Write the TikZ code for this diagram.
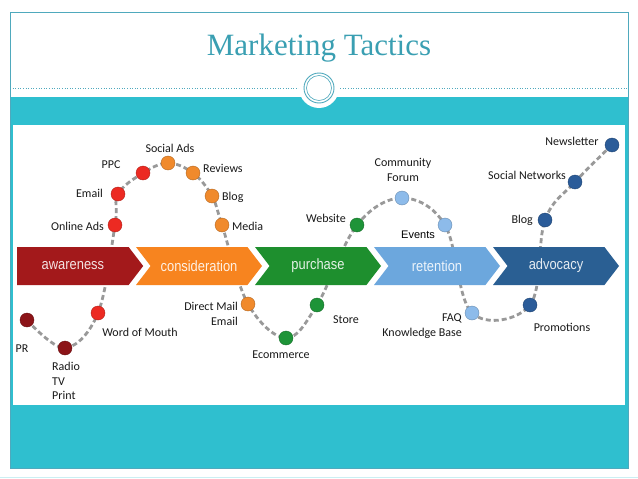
\documentclass[tikz,border=0pt]{standalone}
\usepackage{fontspec}
\setmainfont{Carlito}
\newfontfamily\titlefont{Liberation Serif}
\newfontfamily\arialfont{Liberation Sans}
\usetikzlibrary{shapes.symbols}
\definecolor{bandteal}{HTML}{2FBFCF}
\definecolor{titleteal}{HTML}{3A9FB2}
\definecolor{frameteal}{HTML}{4FA9BD}
\definecolor{awarec}{HTML}{A3191B}
\definecolor{consc}{HTML}{F7841F}
\definecolor{purchc}{HTML}{1E8F2E}
\definecolor{retc}{HTML}{6CA7DD}
\definecolor{advc}{HTML}{2A5F93}
\definecolor{dotdark}{HTML}{8C1418}
\definecolor{dotred}{HTML}{EC2A22}
\definecolor{dotorange}{HTML}{F08A2C}
\definecolor{dotgreen}{HTML}{1E9438}
\definecolor{dotlight}{HTML}{8DBBEA}
\definecolor{dotblue}{HTML}{2B5C99}
\pgfdeclarelayer{panel}
\pgfdeclarelayer{trail}
\pgfsetlayers{panel,trail,main}
\tikzset{
	stage/.style={signal, signal to=east, signal from=west, signal pointer angle=105,
		minimum width=126pt, minimum height=38pt, inner sep=0pt, fill=#1,
		text=white, text opacity=0.88, font=\arialfont\fontsize{15}{15}\selectfont},
	stagefirst/.style={stage=#1, signal from=nowhere, anchor=west},
	dot/.style={circle, inner sep=0pt, minimum size=14pt, fill=#1, draw=#1!75!black, line width=0.4pt},
	tag/.style={font=\fontsize{12}{14.5}\selectfont, text=black!90, inner sep=0pt},
	trailline/.style={draw=gray!80, line width=2.8pt, dash pattern=on 5pt off 3pt},
}
\begin{document}
\begin{tikzpicture}[x=1pt, y=-1pt]
	\useasboundingbox (0,0) rectangle (638,479);
\begin{pgfonlayer}{panel}
	\fill[bandteal] (10,97) rectangle (628,468);
	\fill[white] (13,125) rectangle (625,405);
	\draw[bandteal!25, line width=1pt] (0,477.5) -- (638,477.5);
	\draw[frameteal, line width=0.8pt] (10,12) rectangle (628,468);
	\draw[frameteal, dotted, line width=0.6pt] (10,88) -- (628,88);
	\fill[white] (319,88) circle[radius=20pt];
	\draw[frameteal, line width=0.9pt] (319,88) circle[radius=15pt];
	\draw[frameteal, line width=0.6pt] (319,88) circle[radius=12.5pt];
\end{pgfonlayer}
	\node[font=\titlefont\fontsize{31}{31}\selectfont, text=titleteal] (title) at (319,48) {Marketing Tactics};
	% stages
	\node[stagefirst=awarec] (awareness) at (17,266) {\scalebox{0.86}[1]{awareness}};
	\node[stage=consc] (consideration) at (199,266) {\scalebox{0.86}[1]{consideration}};
	\node[stage=purchc] (purchase) at (318,266) {\scalebox{0.86}[1]{purchase}};
	\node[stage=retc] (retention) at (437,266) {\scalebox{0.86}[1]{retention}};
	\node[stage=advc] (advocacy) at (556,266) {\scalebox{0.86}[1]{advocacy}};
	% touch points
	\node[dot=dotdark] (pr) at (27,320) {};
	\node[dot=dotdark] (radio) at (65,348) {};
	\node[dot=dotred] (wom) at (98,313) {};
	\node[dot=dotred] (onlineads) at (115,225) {};
	\node[dot=dotred] (email) at (118,194) {};
	\node[dot=dotred] (ppc) at (143,173) {};
	\node[dot=dotorange] (socialads) at (168,163) {};
	\node[dot=dotorange] (reviews) at (193,173) {};
	\node[dot=dotorange] (blog) at (212,196) {};
	\node[dot=dotorange] (media) at (222,225) {};
	\node[dot=dotorange] (directmail) at (248,304) {};
	\node[dot=dotgreen] (ecommerce) at (286,338) {};
	\node[dot=dotgreen] (store) at (317,305) {};
	\node[dot=dotgreen] (website) at (357,225) {};
	\node[dot=dotlight] (forum) at (402,198) {};
	\node[dot=dotlight] (events) at (445,225) {};
	\node[dot=dotlight] (faq) at (472,313) {};
	\node[dot=dotblue] (promotions) at (530,305) {};
	\node[dot=dotblue] (blogadv) at (545,220) {};
	\node[dot=dotblue] (socialnet) at (575,182) {};
	\node[dot=dotblue] (newsletter) at (612,145) {};
\begin{pgfonlayer}{trail}
	\draw[trailline] plot[smooth, tension=0.6] coordinates {(pr) (radio) (wom) (onlineads) (email) (ppc)
		(socialads) (reviews) (blog) (media) (directmail) (ecommerce) (store) (website) (forum)
		(events) (faq) (promotions) (blogadv) (socialnet) (newsletter)};
\end{pgfonlayer}
	% labels
	\node[tag] (prtag) at (22,349) {PR};
	\node[tag, align=left, anchor=west] (radiotag) at (52,381) {Radio\\TV\\Print};
	\node[tag] (womtag) at (140,332) {Word of Mouth};
	\node[tag, anchor=east] (onlineadstag) at (104,226) {Online Ads};
	\node[tag, anchor=east] (emailtag) at (103,193) {Email};
	\node[tag] (ppctag) at (111,165) {PPC};
	\node[tag] (socialadstag) at (170,148) {Social Ads};
	\node[tag, anchor=west] (reviewstag) at (203,168) {Reviews};
	\node[tag, anchor=west] (blogtag) at (222,197) {Blog};
	\node[tag, anchor=west] (mediatag) at (232,226) {Media};
	\node[tag, align=right, anchor=east] (directmailtag) at (238,314) {Direct Mail\\Email};
	\node[tag] (ecommercetag) at (281,355) {Ecommerce};
	\node[tag] (storetag) at (346,320) {Store};
	\node[tag, anchor=east] (websitetag) at (346,218) {Website};
	\node[tag, align=center] (forumtag) at (403,170) {Community\\Forum};
	\node[tag, font=\arialfont\fontsize{11}{12}\selectfont, text=black] (eventstag) at (418,235) {Events};
	\node[tag, align=right, anchor=east] (faqtag) at (462,326) {FAQ\\Knowledge Base};
	\node[tag] (promotionstag) at (562,327) {Promotions};
	\node[tag, anchor=east] (blogadvtag) at (533,220) {Blog};
	\node[tag] (socialnettag) at (527,175) {Social Networks};
	\node[tag] (newslettertag) at (572,141) {Newsletter};
\end{tikzpicture}
\end{document}
